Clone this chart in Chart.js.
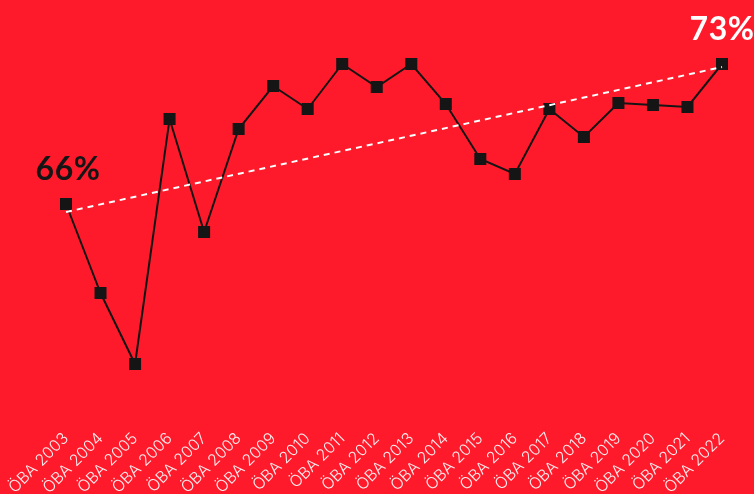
<!DOCTYPE html>
<html>
<head>
<meta charset="utf-8">
<script src="https://cdn.jsdelivr.net/npm/chart.js@4"></script>
<style>
  html, body { margin: 0; padding: 0; background: #ff1a2b; }
  #wrap { width: 754px; height: 494px; }
</style>
</head>
<body>
<div id="wrap"><canvas id="chart"></canvas></div>
<script>
const years = ['ÖBA 2003', 'ÖBA 2004', 'ÖBA 2005', 'ÖBA 2006', 'ÖBA 2007', 'ÖBA 2008', 'ÖBA 2009',
    'ÖBA 2010', 'ÖBA 2011', 'ÖBA 2012', 'ÖBA 2013', 'ÖBA 2014', 'ÖBA 2015', 'ÖBA 2016',
    'ÖBA 2017', 'ÖBA 2018', 'ÖBA 2019', 'ÖBA 2020', 'ÖBA 2021', 'ÖBA 2022'];
const values = [66, 61.55, 58, 70.25, 64.6, 69.75, 71.9, 70.75, 73, 71.85, 73, 71, 68.25, 67.5,
    70.75, 69.35, 71.05, 70.95, 70.85, 73];
const trend = [65.6, null, null, null, null, null, null, null, null, null, null, null, null, null,
    null, null, null, null, null, 72.85];
const endLabels = ['66%', '73%'];

// label above first and last point
const endLabelPlugin = {
    id: 'endLabels',
    afterDatasetsDraw(chart) {
        const ctx = chart.ctx;
        const pts = chart.getDatasetMeta(0).data;
        ctx.save();
        ctx.font = 'bold 32px Lato';
        ctx.letterSpacing = '0.5px';
        ctx.textAlign = 'center';
        ctx.textBaseline = 'alphabetic';
        ctx.fillStyle = '#151515';
        ctx.fillText(endLabels[0], pts[0].x + 2, pts[0].y - 24);
        ctx.fillStyle = '#ffffff';
        ctx.fillText(endLabels[1], pts[pts.length - 1].x, pts[pts.length - 1].y - 24);
        ctx.restore();
    }
};

new Chart(document.querySelector('#chart').getContext('2d'), {
    type: 'line',
    data: {
        labels: years,
        datasets: [{
            data: values,
            borderColor: '#151515',
            borderWidth: 2,
            pointStyle: 'rect',
            pointRadius: 8.5,
            pointBackgroundColor: '#151515',
            pointBorderWidth: 0,
            tension: 0,
            order: 1
        }, {
            data: trend,
            borderColor: '#ffffff',
            borderWidth: 2,
            borderDash: [6, 5],
            pointRadius: 0,
            spanGaps: true,
            order: 0
        }]
    },
    options: {
        responsive: true,
        maintainAspectRatio: false,
        animation: false,
        layout: { autoPadding: false, padding: { left: 66, right: 32, top: 4, bottom: 0 } },
        plugins: { legend: { display: false }, tooltip: { enabled: false } },
        scales: {
            x: {
                offset: false,
                grid: { display: false, drawTicks: false },
                border: { display: false },
                afterFit: s => { s.height = 70; },
                ticks: {
                    color: 'rgba(255,255,255,0.92)',
                    font: { family: 'Inter', size: 16, weight: '300' },
                    maxRotation: 45,
                    minRotation: 45,
                    autoSkip: false,
                    padding: 5
                }
            },
            y: {
                display: false,
                min: 55,
                max: 76
            }
        }
    },
    plugins: [endLabelPlugin]
});
</script>
</body>
</html>
